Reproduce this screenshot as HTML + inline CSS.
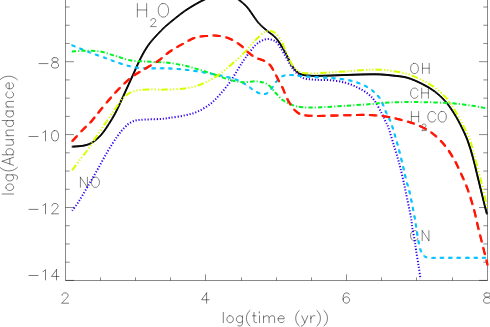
<!DOCTYPE html>
<html><head><meta charset="utf-8"><title>Abundance plot</title>
<style>html,body{margin:0;padding:0;background:#fff;font-family:"Liberation Sans",sans-serif;}svg{display:block}</style>
</head><body>
<svg width="490" height="327" viewBox="0 0 490 327">
<rect width="490" height="327" fill="#fff"/>
<path d="M65.50 -2.00 L65.50 280.50 L487.50 280.50M487.50 -2.00 L487.50 280.50" stroke="#000" stroke-opacity="0.46" stroke-width="1" fill="none"/>
<path d="M100.50 280.50 L100.50 277.40M135.50 280.50 L135.50 277.40M170.50 280.50 L170.50 277.40M205.50 280.50 L205.50 274.30M241.50 280.50 L241.50 277.40M276.50 280.50 L276.50 277.40M311.50 280.50 L311.50 277.40M346.50 280.50 L346.50 274.30M381.50 280.50 L381.50 277.40M416.50 280.50 L416.50 277.40M452.50 280.50 L452.50 277.40M65.50 280.40 L74.00 280.40M487.50 280.40 L479.00 280.40M65.50 262.18 L69.70 262.18M487.50 262.18 L483.30 262.18M65.50 243.95 L69.70 243.95M487.50 243.95 L483.30 243.95M65.50 225.73 L69.70 225.73M487.50 225.73 L483.30 225.73M65.50 207.50 L74.00 207.50M487.50 207.50 L479.00 207.50M65.50 189.28 L69.70 189.28M487.50 189.28 L483.30 189.28M65.50 171.05 L69.70 171.05M487.50 171.05 L483.30 171.05M65.50 152.82 L69.70 152.82M487.50 152.82 L483.30 152.82M65.50 134.60 L74.00 134.60M487.50 134.60 L479.00 134.60M65.50 116.38 L69.70 116.38M487.50 116.38 L483.30 116.38M65.50 98.15 L69.70 98.15M487.50 98.15 L483.30 98.15M65.50 79.93 L69.70 79.93M487.50 79.93 L483.30 79.93M65.50 61.70 L74.00 61.70M487.50 61.70 L479.00 61.70M65.50 43.48 L69.70 43.48M487.50 43.48 L483.30 43.48M65.50 25.25 L69.70 25.25M487.50 25.25 L483.30 25.25M65.50 7.02 L69.70 7.02M487.50 7.02 L483.30 7.02" stroke="#000" stroke-opacity="0.46" stroke-width="1" fill="none"/>
<path d="M137.36 3.56L137.36 17.00M146.65 3.56L146.65 17.00M137.36 9.96L146.65 9.96M150.90 20.46L150.90 20.07L151.30 19.30L151.70 18.92L152.50 18.54L154.09 18.54L154.89 18.92L155.28 19.30L155.68 20.07L155.68 20.84L155.28 21.61L154.49 22.76L150.50 26.60L156.08 26.60M162.14 3.56L160.86 4.20L159.59 5.48L158.95 6.76L158.31 8.68L158.31 11.88L158.95 13.80L159.59 15.08L160.86 16.36L162.14 17.00L164.69 17.00L165.96 16.36L167.24 15.08L167.88 13.80L168.51 11.88L168.51 8.68L167.88 6.76L167.24 5.48L165.96 4.20L164.69 3.56L162.14 3.56M413.52 63.42L412.56 63.90L411.60 64.86L411.12 65.82L410.64 67.26L410.64 69.66L411.12 71.10L411.60 72.06L412.56 73.02L413.52 73.50L415.44 73.50L416.40 73.02L417.36 72.06L417.84 71.10L418.32 69.66L418.32 67.26L417.84 65.82L417.36 64.86L416.40 63.90L415.44 63.42L413.52 63.42M422.48 63.42L422.48 73.50M429.20 63.42L429.20 73.50M422.48 68.22L429.20 68.22M417.84 90.52L417.36 89.56L416.40 88.60L415.44 88.12L413.52 88.12L412.56 88.60L411.60 89.56L411.12 90.52L410.64 91.96L410.64 94.36L411.12 95.80L411.60 96.76L412.56 97.72L413.52 98.20L415.44 98.20L416.40 97.72L417.36 96.76L417.84 95.80M421.70 88.12L421.70 98.20M428.42 88.12L428.42 98.20M421.70 92.92L428.42 92.92M411.38 111.50L411.38 122.00M418.66 111.50L418.66 122.00M411.38 116.50L418.66 116.50M422.03 125.64L422.03 125.33L422.35 124.71L422.67 124.40L423.32 124.09L424.61 124.09L425.25 124.40L425.58 124.71L425.90 125.33L425.90 125.95L425.58 126.57L424.93 127.50L421.71 130.60L426.22 130.60M435.66 114.00L435.14 113.00L434.10 112.00L433.06 111.50L430.98 111.50L429.94 112.00L428.90 113.00L428.38 114.00L427.86 115.50L427.86 118.00L428.38 119.50L428.90 120.50L429.94 121.50L430.98 122.00L433.06 122.00L434.10 121.50L435.14 120.50L435.66 119.50M441.25 111.50L440.24 112.00L439.23 113.00L438.72 114.00L438.22 115.50L438.22 118.00L438.72 119.50L439.23 120.50L440.24 121.50L441.25 122.00L443.28 122.00L444.29 121.50L445.30 120.50L445.81 119.50L446.31 118.00L446.31 115.50L445.81 114.00L445.30 113.00L444.29 112.00L443.28 111.50L441.25 111.50M417.84 233.02L417.36 232.06L416.40 231.10L415.44 230.62L413.52 230.62L412.56 231.10L411.60 232.06L411.12 233.02L410.64 234.46L410.64 236.86L411.12 238.30L411.60 239.26L412.56 240.22L413.52 240.70L415.44 240.70L416.40 240.22L417.36 239.26L417.84 238.30M422.20 230.62L422.20 240.70M422.20 230.62L428.92 240.70M428.92 230.62L428.92 240.70M80.40 177.22L80.40 187.30M80.40 177.22L87.40 187.30M87.40 177.22L87.40 187.30M94.40 177.22L93.40 177.70L92.40 178.66L91.90 179.62L91.40 181.06L91.40 183.46L91.90 184.90L92.40 185.86L93.40 186.82L94.40 187.30L96.40 187.30L97.40 186.82L98.40 185.86L98.90 184.90L99.40 183.46L99.40 181.06L98.90 179.62L98.40 178.66L97.40 177.70L96.40 177.22L94.40 177.22" stroke="#000" stroke-opacity="0.54" stroke-width="0.9" fill="none" stroke-linecap="round" stroke-linejoin="round"/>
<defs><path id="c_black" d="M72.10 146.70C74.15 146.50 80.93 146.27 84.40 145.50C87.87 144.73 90.05 143.93 92.90 142.10C95.75 140.27 98.85 137.50 101.50 134.50C104.15 131.50 106.55 127.57 108.80 124.10C111.05 120.63 113.08 117.27 115.00 113.70C116.92 110.13 118.37 106.83 120.30 102.70C122.23 98.57 124.50 93.50 126.60 88.90C128.70 84.30 130.80 79.72 132.90 75.10C135.00 70.48 137.23 65.25 139.20 61.20C141.17 57.15 142.87 53.90 144.70 50.80C146.53 47.70 148.05 45.35 150.20 42.60C152.35 39.85 155.15 36.92 157.60 34.30C160.05 31.68 162.00 29.53 164.90 26.90C167.80 24.27 171.65 21.18 175.00 18.50C178.35 15.82 181.50 13.22 185.00 10.80C188.50 8.38 192.63 5.93 196.00 4.00C199.37 2.07 202.03 0.63 205.20 -0.80C208.37 -2.23 212.03 -3.73 215.00 -4.60C217.97 -5.47 220.17 -6.03 223.00 -6.00C225.83 -5.97 229.32 -5.40 232.00 -4.40C234.68 -3.40 236.70 -1.78 239.10 0.00C241.50 1.78 244.42 4.23 246.40 6.30C248.38 8.37 249.57 10.42 251.00 12.40C252.43 14.38 253.58 16.27 255.00 18.20C256.42 20.13 257.38 21.82 259.50 24.00C261.62 26.18 264.98 28.98 267.70 31.30C270.42 33.62 273.08 34.77 275.80 37.90C278.52 41.03 281.13 45.22 284.00 50.10C286.87 54.98 290.30 63.23 293.00 67.20C295.70 71.17 297.33 72.48 300.20 73.90C303.07 75.32 306.02 75.40 310.20 75.70C314.38 76.00 319.43 75.82 325.30 75.70C331.17 75.58 338.70 75.22 345.40 75.00C352.10 74.78 359.73 74.50 365.50 74.40C371.27 74.30 375.57 74.22 380.00 74.40C384.43 74.58 387.57 74.95 392.10 75.50C396.63 76.05 402.17 76.28 407.20 77.70C412.23 79.12 417.70 81.70 422.30 84.00C426.90 86.30 431.03 88.70 434.80 91.50C438.57 94.30 441.97 97.58 444.90 100.80C447.83 104.02 449.88 106.95 452.40 110.80C454.92 114.65 457.48 119.00 460.00 123.90C462.52 128.80 465.33 134.55 467.50 140.20C469.67 145.85 471.42 152.17 473.00 157.80C474.58 163.43 475.73 168.83 477.00 174.00C478.27 179.17 479.42 183.97 480.60 188.80C481.78 193.63 483.05 198.80 484.10 203.00C485.15 207.20 486.43 212.17 486.90 214.00"/><path id="c_blue" d="M72.10 210.70C73.22 209.15 76.22 205.42 78.80 201.40C81.38 197.38 84.45 191.95 87.60 186.60C90.75 181.25 94.35 175.18 97.70 169.30C101.05 163.42 104.42 156.80 107.70 151.30C110.98 145.80 114.55 140.30 117.40 136.30C120.25 132.30 122.43 129.68 124.80 127.30C127.17 124.92 129.00 123.25 131.60 122.00C134.20 120.75 135.58 120.30 140.40 119.80C145.22 119.30 155.57 119.33 160.50 119.00C165.43 118.67 165.90 118.42 170.00 117.80C174.10 117.18 180.50 116.33 185.10 115.30C189.70 114.27 193.42 113.48 197.60 111.60C201.78 109.72 206.42 106.93 210.20 104.00C213.98 101.07 216.95 97.73 220.30 94.00C223.65 90.27 227.27 85.87 230.30 81.60C233.33 77.33 235.98 72.37 238.50 68.40C241.02 64.43 242.58 61.67 245.40 57.80C248.22 53.93 252.27 48.22 255.40 45.20C258.53 42.18 261.47 40.62 264.20 39.70C266.93 38.78 269.50 38.98 271.80 39.70C274.10 40.42 275.70 41.20 278.00 44.00C280.30 46.80 283.08 52.32 285.60 56.50C288.12 60.68 290.25 65.57 293.10 69.10C295.95 72.63 299.02 75.93 302.70 77.70C306.38 79.47 310.60 79.28 315.20 79.70C319.80 80.12 325.27 79.70 330.30 80.20C335.33 80.70 340.80 81.45 345.40 82.70C350.00 83.95 354.13 85.83 357.90 87.70C361.67 89.57 365.23 91.75 368.00 93.90C370.77 96.05 372.20 97.35 374.50 100.60C376.80 103.85 379.95 109.88 381.80 113.40C383.65 116.92 384.50 119.33 385.60 121.70C386.70 124.07 386.90 123.27 388.40 127.60C389.90 131.93 392.72 141.42 394.60 147.70C396.48 153.98 398.23 159.77 399.70 165.30C401.17 170.83 402.37 176.35 403.40 180.90C404.43 185.45 404.63 186.47 405.90 192.60C407.17 198.73 409.95 211.88 411.00 217.70C412.05 223.52 411.58 223.72 412.20 227.50C412.82 231.28 414.07 236.63 414.70 240.40C415.33 244.17 415.37 245.97 416.00 250.10C416.63 254.23 417.75 260.38 418.50 265.20C419.25 270.02 420.17 276.70 420.50 279.00"/><path id="c_cyan" d="M71.80 45.20C74.83 46.42 84.22 50.30 90.00 52.50C95.78 54.70 102.12 56.80 106.50 58.40C110.88 60.00 112.38 60.78 116.30 62.10C120.22 63.42 125.55 65.27 130.00 66.30C134.45 67.33 137.92 67.97 143.00 68.30C148.08 68.63 156.00 68.27 160.50 68.30C165.00 68.33 165.90 68.27 170.00 68.50C174.10 68.73 179.65 69.08 185.10 69.70C190.55 70.32 197.05 71.28 202.70 72.20C208.35 73.12 214.12 74.18 219.00 75.20C223.88 76.22 228.52 77.30 232.00 78.30C235.48 79.30 237.22 79.90 239.90 81.20C242.58 82.50 245.65 84.47 248.10 86.10C250.55 87.73 252.15 89.65 254.60 91.00C257.05 92.35 260.35 94.07 262.80 94.20C265.25 94.33 267.40 93.42 269.30 91.80C271.20 90.18 272.30 86.95 274.20 84.50C276.10 82.05 278.25 78.68 280.70 77.10C283.15 75.52 285.63 75.18 288.90 75.00C292.17 74.82 295.95 75.65 300.30 76.00C304.65 76.35 309.58 76.73 315.00 77.10C320.42 77.47 327.13 77.67 332.80 78.20C338.47 78.73 344.13 79.27 349.00 80.30C353.87 81.33 358.20 82.77 362.00 84.40C365.80 86.03 368.80 87.73 371.80 90.10C374.80 92.47 377.58 94.83 380.00 98.60C382.42 102.37 384.53 108.85 386.30 112.70C388.07 116.55 389.42 118.78 390.60 121.70C391.78 124.62 392.10 125.87 393.40 130.20C394.70 134.53 396.73 141.43 398.40 147.70C400.07 153.97 402.07 162.27 403.40 167.80C404.73 173.33 405.35 176.77 406.40 180.90C407.45 185.03 408.32 186.47 409.70 192.60C411.08 198.73 413.62 211.88 414.70 217.70C415.78 223.52 415.58 223.62 416.20 227.50C416.82 231.38 417.63 237.12 418.40 241.00C419.17 244.88 419.92 248.37 420.80 250.80C421.68 253.23 422.42 254.43 423.70 255.60C424.98 256.77 425.78 257.43 428.50 257.80C431.22 258.17 430.50 257.80 440.00 257.80C449.50 257.80 477.92 257.80 485.50 257.80"/><path id="c_green" d="M71.80 51.50C74.00 51.37 80.30 50.70 85.00 50.70C89.70 50.70 95.00 50.65 100.00 51.50C105.00 52.35 110.00 54.33 115.00 55.80C120.00 57.27 124.93 59.35 130.00 60.30C135.07 61.25 140.32 61.17 145.40 61.50C150.48 61.83 156.40 62.05 160.50 62.30C164.60 62.55 165.90 62.43 170.00 63.00C174.10 63.57 180.07 64.53 185.10 65.70C190.13 66.87 195.18 68.50 200.20 70.00C205.22 71.50 210.18 73.03 215.20 74.70C220.22 76.37 225.68 78.75 230.30 80.00C234.92 81.25 238.30 81.97 242.90 82.20C247.50 82.43 253.72 80.98 257.90 81.40C262.08 81.82 265.07 82.82 268.00 84.70C270.93 86.58 272.98 90.10 275.50 92.70C278.02 95.30 280.25 98.23 283.10 100.30C285.95 102.37 289.33 103.93 292.60 105.10C295.87 106.27 298.08 106.93 302.70 107.30C307.32 107.67 313.18 107.55 320.30 107.30C327.42 107.05 337.03 106.33 345.40 105.80C353.77 105.27 364.40 104.60 370.50 104.10C376.60 103.60 376.30 103.13 382.00 102.80C387.70 102.47 396.73 102.18 404.70 102.10C412.67 102.02 421.85 102.10 429.80 102.30C437.75 102.50 445.28 102.72 452.40 103.30C459.52 103.88 466.63 104.92 472.50 105.80C478.37 106.68 485.08 108.13 487.60 108.60"/><path id="c_yellow" d="M72.10 170.30C73.42 168.52 77.35 163.08 80.00 159.60C82.65 156.12 85.75 152.52 88.00 149.40C90.25 146.28 91.05 144.62 93.50 140.90C95.95 137.18 99.33 132.05 102.70 127.10C106.07 122.15 110.82 115.38 113.70 111.20C116.58 107.02 118.07 104.57 120.00 102.00C121.93 99.43 122.73 97.68 125.30 95.80C127.87 93.92 131.62 91.73 135.40 90.70C139.18 89.67 142.98 89.78 148.00 89.60C153.02 89.42 159.32 89.80 165.50 89.60C171.68 89.40 179.32 89.22 185.10 88.40C190.88 87.58 195.18 86.58 200.20 84.70C205.22 82.82 210.60 79.95 215.20 77.10C219.80 74.25 224.03 70.65 227.80 67.60C231.57 64.55 234.87 61.50 237.80 58.80C240.73 56.10 242.47 54.50 245.40 51.40C248.33 48.30 252.23 43.43 255.40 40.20C258.57 36.97 261.95 33.53 264.40 32.00C266.85 30.47 268.43 30.90 270.10 31.00C271.77 31.10 272.57 31.07 274.40 32.60C276.23 34.13 279.00 36.55 281.10 40.20C283.20 43.85 284.97 50.12 287.00 54.50C289.03 58.88 291.10 63.55 293.30 66.50C295.50 69.45 297.38 71.05 300.20 72.20C303.02 73.35 306.02 73.32 310.20 73.40C314.38 73.48 319.43 73.03 325.30 72.70C331.17 72.37 338.70 71.87 345.40 71.40C352.10 70.93 359.90 70.18 365.50 69.90C371.10 69.62 374.50 69.52 379.00 69.70C383.50 69.88 387.80 70.30 392.50 71.00C397.20 71.70 402.23 72.37 407.20 73.90C412.17 75.43 417.70 77.90 422.30 80.20C426.90 82.50 431.03 84.98 434.80 87.70C438.57 90.42 442.58 94.23 444.90 96.50C447.22 98.77 447.25 99.33 448.70 101.30C450.15 103.27 451.42 104.72 453.60 108.30C455.78 111.88 459.07 117.48 461.80 122.80C464.53 128.12 467.80 134.33 470.00 140.20C472.20 146.07 473.33 151.87 475.00 158.00C476.67 164.13 478.70 172.07 480.00 177.00C481.30 181.93 481.88 183.73 482.80 187.60C483.72 191.47 484.77 196.85 485.50 200.20C486.23 203.55 486.92 206.45 487.20 207.70"/><path id="c_red" d="M72.10 141.40C73.85 139.50 79.38 133.35 82.60 130.00C85.82 126.65 88.47 124.58 91.40 121.30C94.33 118.02 96.22 115.07 100.20 110.30C104.18 105.53 110.27 98.07 115.30 92.70C120.33 87.33 125.78 81.88 130.40 78.10C135.02 74.32 138.40 72.85 143.00 70.00C147.60 67.15 153.50 64.08 158.00 61.00C162.50 57.92 165.87 54.35 170.00 51.50C174.13 48.65 178.62 46.20 182.80 43.90C186.98 41.60 190.95 39.03 195.10 37.70C199.25 36.37 203.93 36.23 207.70 35.90C211.47 35.57 213.93 35.20 217.70 35.70C221.47 36.20 226.52 37.32 230.30 38.90C234.08 40.48 237.37 42.92 240.40 45.20C243.43 47.48 246.00 50.55 248.50 52.60C251.00 54.65 252.98 56.22 255.40 57.50C257.82 58.78 260.55 59.02 263.00 60.30C265.45 61.58 267.97 62.75 270.10 65.20C272.23 67.65 274.27 72.23 275.80 75.00C277.33 77.77 278.17 79.68 279.30 81.80C280.43 83.92 281.55 85.47 282.60 87.70C283.65 89.93 284.53 92.82 285.60 95.20C286.67 97.58 287.93 100.12 289.00 102.00C290.07 103.88 290.98 105.08 292.00 106.50C293.02 107.92 293.93 109.33 295.10 110.50C296.27 111.67 297.73 112.77 299.00 113.50C300.27 114.23 300.00 114.50 302.70 114.90C305.40 115.30 308.92 115.82 315.20 115.90C321.48 115.98 332.02 115.57 340.40 115.40C348.78 115.23 358.80 114.82 365.50 114.90C372.20 114.98 376.00 115.40 380.60 115.90C385.20 116.40 389.92 117.28 393.10 117.90C396.28 118.52 396.10 118.60 399.70 119.60C403.30 120.60 409.68 121.93 414.70 123.90C419.72 125.87 425.18 128.27 429.80 131.40C434.42 134.53 438.63 138.52 442.40 142.70C446.17 146.88 449.47 151.72 452.40 156.50C455.33 161.28 457.48 166.02 460.00 171.40C462.52 176.78 465.20 182.55 467.50 188.80C469.80 195.05 472.02 202.43 473.80 208.90C475.58 215.37 476.73 221.55 478.20 227.60C479.67 233.65 481.23 239.77 482.60 245.20C483.97 250.63 485.57 256.87 486.40 260.20C487.23 263.53 487.40 264.37 487.60 265.20"/></defs>
<g fill="none" stroke="#000000" stroke-width="0.88"><use href="#c_black" x="-0.41" y="-0.41"/><use href="#c_black" x="-0.41" y="0.41"/><use href="#c_black" x="0.41" y="-0.41"/><use href="#c_black" x="0.41" y="0.41"/></g>
<g fill="none" stroke="#3200f0" stroke-width="2.00" stroke-dasharray="1.2 1.82"><use href="#c_blue"/></g>
<g fill="none" stroke="#00c2ff" stroke-width="0.99" stroke-dasharray="3.60 4.80"><use href="#c_cyan" x="-0.46" y="-0.46"/><use href="#c_cyan" x="-0.46" y="0.46"/><use href="#c_cyan" x="0.46" y="-0.46"/><use href="#c_cyan" x="0.46" y="0.46"/></g>
<g fill="none" stroke="#00f424" stroke-width="2.00" stroke-dasharray="4.3 2.1 1.1 2.1"><use href="#c_green"/></g>
<g fill="none" stroke="#d8ff00" stroke-width="2.00" stroke-dasharray="6.7 2.1 1.2 2.0 1.2 2.0 1.2 2.0"><use href="#c_yellow"/></g>
<g fill="none" stroke="#ff1400" stroke-width="1.07" stroke-dasharray="7.52 5.38"><use href="#c_red" x="-0.49" y="-0.49"/><use href="#c_red" x="-0.49" y="0.49"/><use href="#c_red" x="0.49" y="-0.49"/><use href="#c_red" x="0.49" y="0.49"/></g>
<path d="M39.00 63.59L48.00 63.59M54.00 57.71L52.50 58.20L52.00 59.18L52.00 60.16L52.50 61.14L53.50 61.63L55.50 62.12L57.00 62.61L58.00 63.59L58.50 64.57L58.50 66.04L58.00 67.02L57.50 67.51L56.00 68.00L54.00 68.00L52.50 67.51L52.00 67.02L51.50 66.04L51.50 64.57L52.00 63.59L53.00 62.61L54.50 62.12L56.50 61.63L57.50 61.14L58.00 60.16L58.00 59.18L57.50 58.20L56.00 57.71L54.00 57.71M29.00 136.49L38.00 136.49M43.00 132.57L44.00 132.08L45.50 130.61L45.50 140.90M54.50 130.61L53.00 131.10L52.00 132.57L51.50 135.02L51.50 136.49L52.00 138.94L53.00 140.41L54.50 140.90L55.50 140.90L57.00 140.41L58.00 138.94L58.50 136.49L58.50 135.02L58.00 132.57L57.00 131.10L55.50 130.61L54.50 130.61M29.00 209.39L38.00 209.39M43.00 205.47L44.00 204.98L45.50 203.51L45.50 213.80M52.00 205.96L52.00 205.47L52.50 204.49L53.00 204.00L54.00 203.51L56.00 203.51L57.00 204.00L57.50 204.49L58.00 205.47L58.00 206.45L57.50 207.43L56.50 208.90L51.50 213.80L58.50 213.80M29.00 275.49L38.00 275.49M43.00 271.57L44.00 271.08L45.50 269.61L45.50 279.90M56.50 269.61L51.50 276.47L59.00 276.47M56.50 269.61L56.50 279.90M62.10 295.36L62.10 294.87L62.60 293.89L63.10 293.40L64.10 292.91L66.10 292.91L67.10 293.40L67.60 293.89L68.10 294.87L68.10 295.85L67.60 296.83L66.60 298.30L61.60 303.20L68.60 303.20M206.60 292.91L201.60 299.77L209.10 299.77M206.60 292.91L206.60 303.20M349.10 294.38L348.60 293.40L347.10 292.91L346.10 292.91L344.60 293.40L343.60 294.87L343.10 297.32L343.10 299.77L343.60 301.73L344.60 302.71L346.10 303.20L346.60 303.20L348.10 302.71L349.10 301.73L349.60 300.26L349.60 299.77L349.10 298.30L348.10 297.32L346.60 296.83L346.10 296.83L344.60 297.32L343.60 298.30L343.10 299.77M486.10 292.91L484.60 293.40L484.10 294.38L484.10 295.36L484.60 296.34L485.60 296.83L487.60 297.32L489.10 297.81L490.10 298.79L490.60 299.77L490.60 301.24L490.10 302.22L489.60 302.71L488.10 303.20L486.10 303.20L484.60 302.71L484.10 302.22L483.60 301.24L483.60 299.77L484.10 298.79L485.10 297.81L486.60 297.32L488.60 296.83L489.60 296.34L490.10 295.36L490.10 294.38L489.60 293.40L488.10 292.91L486.10 292.91M223.31 312.42L223.31 322.60M229.35 315.81L228.34 316.30L227.34 317.27L226.83 318.72L226.83 319.69L227.34 321.15L228.34 322.12L229.35 322.60L230.86 322.60L231.86 322.12L232.87 321.15L233.37 319.69L233.37 318.72L232.87 317.27L231.86 316.30L230.86 315.81L229.35 315.81M242.43 315.81L242.43 323.57L241.92 325.03L241.42 325.51L240.41 326.00L238.91 326.00L237.90 325.51M242.43 317.27L241.42 316.30L240.41 315.81L238.91 315.81L237.90 316.30L236.89 317.27L236.39 318.72L236.39 319.69L236.89 321.15L237.90 322.12L238.91 322.60L240.41 322.60L241.42 322.12L242.43 321.15M249.97 310.48L248.96 311.45L247.96 312.90L246.95 314.84L246.45 317.27L246.45 319.21L246.95 321.63L247.96 323.57L248.96 325.03L249.97 326.00M253.99 312.42L253.99 320.66L254.50 322.12L255.50 322.60L256.51 322.60M252.49 315.81L256.01 315.81M259.02 312.42L259.53 312.90L260.03 312.42L259.53 311.93L259.02 312.42M259.53 315.81L259.53 322.60M263.55 315.81L263.55 322.60M263.55 317.75L265.06 316.30L266.07 315.81L267.58 315.81L268.58 316.30L269.08 317.75L269.08 322.60M269.08 317.75L270.59 316.30L271.60 315.81L273.11 315.81L274.11 316.30L274.62 317.75L274.62 322.60M278.14 318.72L284.17 318.72L284.17 317.75L283.67 316.78L283.17 316.30L282.16 315.81L280.65 315.81L279.65 316.30L278.64 317.27L278.14 318.72L278.14 319.69L278.64 321.15L279.65 322.12L280.65 322.60L282.16 322.60L283.17 322.12L284.17 321.15M299.26 310.48L298.26 311.45L297.25 312.90L296.25 314.84L295.74 317.27L295.74 319.21L296.25 321.63L297.25 323.57L298.26 325.03L299.26 326.00M301.78 315.81L304.80 322.60M307.82 315.81L304.80 322.60L303.79 324.54L302.79 325.51L301.78 326.00L301.28 326.00M310.83 315.81L310.83 322.60M310.83 318.72L311.34 317.27L312.34 316.30L313.35 315.81L314.86 315.81M316.87 310.48L317.88 311.45L318.88 312.90L319.89 314.84L320.39 317.27L320.39 319.21L319.89 321.63L318.88 323.57L317.88 325.03L316.87 326.00M323.91 310.48L324.92 311.45L325.92 312.90L326.93 314.84L327.43 317.27L327.43 319.21L326.93 321.63L325.92 323.57L324.92 325.03L323.91 326.00M2.15 193.99L13.60 193.99M5.97 187.95L6.51 188.96L7.60 189.96L9.24 190.47L10.33 190.47L11.96 189.96L13.05 188.96L13.60 187.95L13.60 186.44L13.05 185.44L11.96 184.43L10.33 183.93L9.24 183.93L7.60 184.43L6.51 185.44L5.97 186.44L5.97 187.95M5.97 174.87L14.69 174.87L16.32 175.38L16.87 175.88L17.41 176.89L17.41 178.40L16.87 179.40M7.60 174.87L6.51 175.88L5.97 176.89L5.97 178.40L6.51 179.40L7.60 180.41L9.24 180.91L10.33 180.91L11.96 180.41L13.05 179.40L13.60 178.40L13.60 176.89L13.05 175.88L11.96 174.87M-0.03 167.33L1.06 168.34L2.70 169.34L4.88 170.35L7.60 170.85L9.79 170.85L12.51 170.35L14.69 169.34L16.32 168.34L17.41 167.33M2.15 161.29L13.60 165.32M2.15 161.29L13.60 157.27M9.79 163.81L9.79 158.78M2.15 154.75L13.60 154.75M7.60 154.75L6.51 153.75L5.97 152.74L5.97 151.23L6.51 150.23L7.60 149.22L9.24 148.72L10.33 148.72L11.96 149.22L13.05 150.23L13.60 151.23L13.60 152.74L13.05 153.75L11.96 154.75M5.97 145.20L11.42 145.20L13.05 144.69L13.60 143.69L13.60 142.18L13.05 141.17L11.42 139.66M5.97 139.66L13.60 139.66M5.97 135.64L13.60 135.64M8.15 135.64L6.51 134.13L5.97 133.12L5.97 131.62L6.51 130.61L8.15 130.11L13.60 130.11M2.15 120.55L13.60 120.55M7.60 120.55L6.51 121.56L5.97 122.56L5.97 124.07L6.51 125.08L7.60 126.08L9.24 126.59L10.33 126.59L11.96 126.08L13.05 125.08L13.60 124.07L13.60 122.56L13.05 121.56L11.96 120.55M5.97 110.99L13.60 110.99M7.60 110.99L6.51 112.00L5.97 113.00L5.97 114.51L6.51 115.52L7.60 116.53L9.24 117.03L10.33 117.03L11.96 116.53L13.05 115.52L13.60 114.51L13.60 113.00L13.05 112.00L11.96 110.99M5.97 106.97L13.60 106.97M8.15 106.97L6.51 105.46L5.97 104.45L5.97 102.94L6.51 101.94L8.15 101.44L13.60 101.44M7.60 91.88L6.51 92.88L5.97 93.89L5.97 95.40L6.51 96.41L7.60 97.41L9.24 97.91L10.33 97.91L11.96 97.41L13.05 96.41L13.60 95.40L13.60 93.89L13.05 92.88L11.96 91.88M9.24 88.86L9.24 82.82L8.15 82.82L7.06 83.33L6.51 83.83L5.97 84.84L5.97 86.35L6.51 87.35L7.60 88.36L9.24 88.86L10.33 88.86L11.96 88.36L13.05 87.35L13.60 86.35L13.60 84.84L13.05 83.83L11.96 82.82M-0.03 79.81L1.06 78.80L2.70 77.79L4.88 76.79L7.60 76.29L9.79 76.29L12.51 76.79L14.69 77.79L16.32 78.80L17.41 79.81" stroke="#000" stroke-opacity="0.58" stroke-width="0.9" fill="none" stroke-linecap="round" stroke-linejoin="round"/>
</svg>
</body></html>
